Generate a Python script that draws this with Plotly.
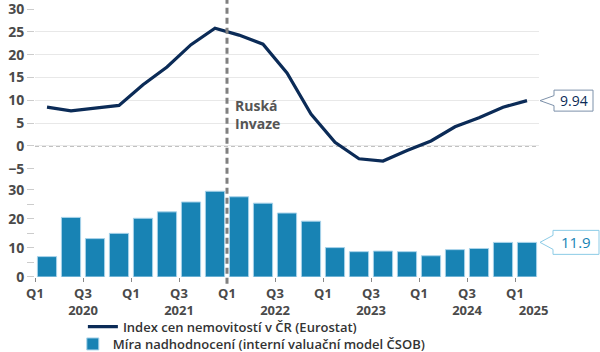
import plotly.graph_objects as go

# ---------------- data ----------------
quarters = ["2020Q1", "2020Q2", "2020Q3", "2020Q4",
            "2021Q1", "2021Q2", "2021Q3", "2021Q4",
            "2022Q1", "2022Q2", "2022Q3", "2022Q4",
            "2023Q1", "2023Q2", "2023Q3", "2023Q4",
            "2024Q1", "2024Q2", "2024Q3", "2024Q4",
            "2025Q1"]
price_index = [8.5, 7.7, 8.3, 8.9, 13.4, 17.3, 22.2, 25.8,
               24.3, 22.3, 16.0, 7.0, 0.8, -2.8, -3.3, -1.0,
               1.1, 4.2, 6.2, 8.5, 9.94]
overvaluation = [7.0, 20.5, 13.2, 15.0, 20.2, 22.4, 25.8, 29.5,
                 27.6, 25.4, 22.0, 19.2, 10.1, 8.7, 8.9, 8.7,
                 7.3, 9.4, 9.8, 11.9, 11.9]
line_name = "Index cen nemovitostí v ČR (Eurostat)"
bar_name = "Míra nadhodnocení (interní valuační model ČSOB)"
event_quarter = "2022Q1"
event_label = "Ruská<br>Invaze"

# ---------------- styling ----------------
NAVY = "#0b2b57"
BLUE = "#1883b4"
YTICK_FONT = dict(family="Open Sans", size=14, color="#4a4a4a", weight=700)
XTICK_FONT = dict(family="Open Sans", size=13, color="#4a4a4a", weight=700)
LEG_FONT = dict(family="Open Sans", size=13, color="#333333", weight=600)

n = len(quarters)
xs = list(range(n))

# tick labels at quarter boundaries (Q1 and Q3)
tickvals, ticktext = [], []
for i, q in enumerate(quarters):
    yr, qq = q[:4], q[4:]
    if qq == "Q1":
        tickvals.append(i - 0.5)
        if i == n - 1:
            ticktext.append("Q1<br>" + "\u00a0" * 11 + yr)
        else:
            ticktext.append("Q1")
    elif qq == "Q3":
        tickvals.append(i - 0.5)
        ticktext.append("Q3<br>" + yr)

EPS = 0.02
TOP_DOM = [0.4035, 1.0]
TOP_RNG = [-5 - EPS, 30 + EPS]
BOT_DOM = [0.0, 0.3256]
BOT_RNG = [0 - EPS, 30 + EPS]

fig = go.Figure()

fig.add_trace(go.Bar(
    x=xs, y=overvaluation, name=bar_name, xaxis="x", yaxis="y2",
    marker=dict(color=BLUE, line=dict(color="#a8d3ea", width=1)),
    legend="legend2", hoverinfo="skip",
))
fig.add_trace(go.Scatter(
    x=xs, y=price_index, name=line_name, mode="lines", xaxis="x", yaxis="y",
    line=dict(color=NAVY, width=3.2), legend="legend", hoverinfo="skip",
))

ev = quarters.index(event_quarter) - 0.5

shapes = [
    # dashed zero line in top panel
    dict(type="line", xref="x", yref="y", x0=-0.5, x1=n - 0.5, y0=0, y1=0,
         line=dict(color="#777777", width=1, dash="4px,3px"), layer="below"),
    # vertical event line
    dict(type="line", xref="x", yref="paper", x0=ev, x1=ev, y0=-0.025, y1=1.035,
         line=dict(color="#808080", width=3, dash="6px,4px")),
]


def to_paper(v, rng, dom):
    return dom[0] + (v - rng[0]) / (rng[1] - rng[0]) * (dom[1] - dom[0])


x_last_paper = (n - 1 + 0.5) / n
# callout for line
yl = to_paper(price_index[-1], TOP_RNG, TOP_DOM)
shapes.append(dict(type="path", xref="paper", yref="paper",
                   xsizemode="pixel", ysizemode="pixel",
                   xanchor=x_last_paper, yanchor=yl,
                   path="M13,0 L27,5 L27,10.5 L66,10.5 L66,-10.5 L27,-10.5 L27,-5 Z",
                   line=dict(color="#7d91aa", width=1), fillcolor="white"))
yb = to_paper(overvaluation[-1], BOT_RNG, BOT_DOM)
shapes.append(dict(type="path", xref="paper", yref="paper",
                   xsizemode="pixel", ysizemode="pixel",
                   xanchor=x_last_paper, yanchor=yb,
                   path="M13,0 L26,7 L26,12 L72,12 L72,-12 L26,-12 L26,-7 Z",
                   line=dict(color="#8ccbe6", width=1), fillcolor="white"))

annotations = [
    dict(x=ev, y=7, xref="x", yref="y", text=event_label, showarrow=False,
         xanchor="left", yanchor="middle", align="left", xshift=6,
         font=dict(family="Open Sans", size=14, color="#555555", weight=700)),
    dict(x=n - 1, y=price_index[-1], xref="x", yref="y", text=f"{price_index[-1]:.2f}",
         showarrow=False, xanchor="center", yanchor="middle", xshift=46.5,
         font=dict(family="Open Sans", size=14, color=NAVY)),
    dict(x=n - 1, y=overvaluation[-1], xref="x", yref="y2", text=f"{overvaluation[-1]:.1f}",
         showarrow=False, xanchor="center", yanchor="middle", xshift=49,
         font=dict(family="Open Sans", size=15, color=BLUE)),
]

fig.update_layout(
    width=600, height=352,
    margin=dict(l=35, r=61, t=9, b=75, autoexpand=False),
    paper_bgcolor="white", plot_bgcolor="white",
    bargap=0.2,
    showlegend=True,
    xaxis=dict(range=[-0.5, n - 0.5], anchor="y2", tickmode="array",
               tickvals=tickvals, ticktext=ticktext, ticks="outside", ticklen=4,
               tickcolor="#888888", showgrid=False, showline=False, zeroline=False,
               tickfont=XTICK_FONT, tickangle=0, fixedrange=True),
    yaxis=dict(domain=TOP_DOM, range=TOP_RNG, tickmode="array",
               tickvals=[-5, 0, 5, 10, 15, 20, 25, 30],
               ticks="outside", ticklen=7, tickcolor="#cccccc",
               showgrid=True, gridcolor="#e8e8e8", gridwidth=1, zeroline=False,
               showline=False, tickfont=YTICK_FONT, anchor="x",
               ticklabeloverflow="allow"),
    yaxis2=dict(domain=BOT_DOM, range=BOT_RNG, tickmode="array",
                tickvals=[0, 5, 10, 15, 20, 25, 30],
                ticktext=["0", "", "10", "", "20", "", "30"],
                ticks="outside", ticklen=7, tickcolor="#cccccc",
                showgrid=False, zeroline=False, showline=False,
                tickfont=YTICK_FONT, anchor="x", ticklabeloverflow="allow"),
    legend=dict(x=0.095, y=-0.185, xanchor="left", yanchor="middle",
                font=LEG_FONT, bgcolor="rgba(0,0,0,0)", itemwidth=30),
    legend2=dict(x=0.075, y=-0.25, xanchor="left", yanchor="middle",
                 font=LEG_FONT, bgcolor="rgba(0,0,0,0)", itemwidth=30),
    shapes=shapes,
    annotations=annotations,
)

fig.write_html("out.html")
